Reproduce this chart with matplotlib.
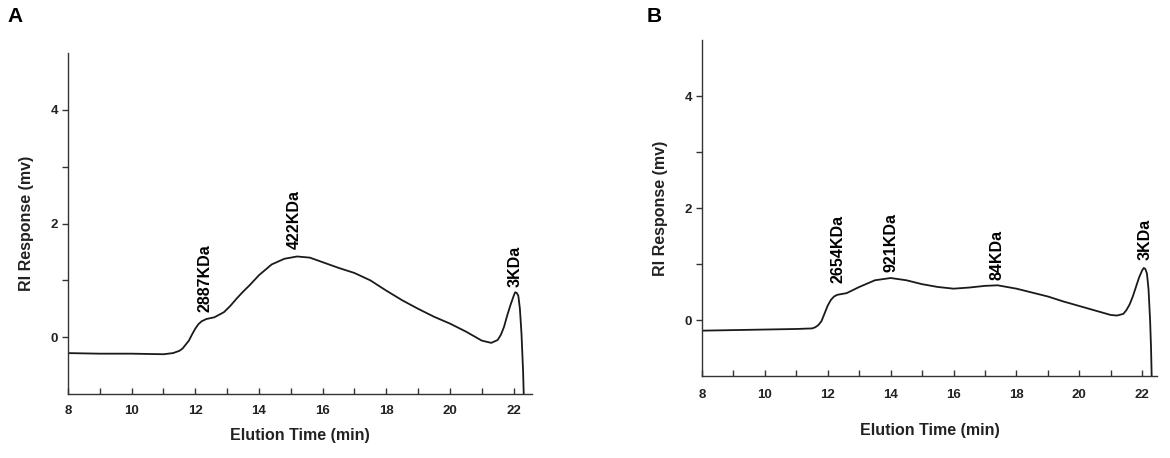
import numpy as np
import matplotlib.pyplot as plt

plt.rcParams['font.family'] = ['Liberation Sans', 'DejaVu Sans']

# ---------------- panel A data ----------------
time_a = [8.0, 9.0, 10.0, 11.0, 11.3, 11.5, 11.6, 11.7, 11.8, 11.9, 12.0, 12.1, 12.2,
          12.35, 12.6, 12.9, 13.1, 13.3, 13.5, 13.7, 14.0, 14.4, 14.8, 15.2, 15.6,
          16.0, 16.5, 17.0, 17.5, 18.0, 18.5, 19.0, 19.5, 20.0, 20.5, 21.0, 21.3,
          21.5, 21.6, 21.7, 21.8, 21.9, 22.0, 22.05, 22.1, 22.15, 22.2, 22.25, 22.3, 22.32]
resp_a = [-0.28, -0.29, -0.29, -0.30, -0.28, -0.24, -0.20, -0.13, -0.06, 0.05, 0.15, 0.23, 0.28,
          0.32, 0.35, 0.44, 0.55, 0.68, 0.80, 0.91, 1.09, 1.28, 1.38, 1.42, 1.40,
          1.32, 1.22, 1.13, 1.00, 0.82, 0.65, 0.50, 0.36, 0.24, 0.10, -0.06, -0.10,
          -0.05, 0.04, 0.18, 0.38, 0.56, 0.72, 0.79, 0.78, 0.73, 0.50, 0.06, -0.60, -1.0]

labels_a = ['2887KDa', '422KDa', '3KDa']
label_x_a = [12.3, 15.1, 22.06]
label_y_a = [0.44, 1.56, 0.88]

# ---------------- panel B data ----------------
time_b = [8.0, 9.0, 10.0, 11.0, 11.5, 11.6, 11.7, 11.8, 11.9, 12.0, 12.1, 12.2, 12.3,
          12.6, 13.0, 13.5, 14.0, 14.5, 15.0, 15.5, 16.0, 16.5, 17.0, 17.4, 18.0,
          18.5, 19.0, 19.5, 20.0, 20.5, 21.0, 21.2, 21.4, 21.5, 21.6, 21.7, 21.8,
          21.9, 22.0, 22.05, 22.1, 22.15, 22.2, 22.25, 22.28, 22.3]
resp_b = [-0.19, -0.18, -0.17, -0.16, -0.15, -0.13, -0.09, -0.02, 0.12, 0.26, 0.36, 0.42, 0.45,
          0.48, 0.59, 0.71, 0.75, 0.71, 0.64, 0.59, 0.56, 0.58, 0.61, 0.62, 0.56,
          0.49, 0.42, 0.33, 0.25, 0.17, 0.09, 0.08, 0.11, 0.18, 0.28, 0.42, 0.59,
          0.76, 0.89, 0.93, 0.91, 0.83, 0.55, 0.0, -0.5, -1.0]

labels_b = ['2654KDa', '921KDa', '84KDa', '3KDa']
label_x_b = [12.32, 14.02, 17.38, 22.08]
label_y_b = [0.67, 0.86, 0.71, 1.07]

major_x = [8, 10, 12, 14, 16, 18, 20, 22]
minor_x = [9, 11, 13, 15, 17, 19, 21]
major_y = [0, 2, 4]
minor_y = [1, 3]

fig = plt.figure(figsize=(11.7, 4.58), dpi=100)
ax_a = fig.add_axes([0.0581, 0.1397, 0.3966, 0.7445])
ax_b = fig.add_axes([0.600, 0.179, 0.3889, 0.7336])


def style_axes(ax, xmax, xpad, xlabelpad):
    ax.set_xlim(8, xmax)
    ax.set_ylim(-1, 5)
    ax.spines['top'].set_visible(False)
    ax.spines['right'].set_visible(False)
    for s in ['left', 'bottom']:
        ax.spines[s].set_linewidth(1.0)
        ax.spines[s].set_color('#333333')
    ax.set_xticks(major_x)
    ax.set_xticks(minor_x, minor=True)
    ax.set_yticks(major_y)
    ax.set_yticks(minor_y, minor=True)
    ax.tick_params(axis='x', which='both', direction='in', length=4, width=1,
                   labelsize=9.5, pad=xpad, color='#333333')
    ax.tick_params(axis='y', which='both', direction='out', length=4, width=1,
                   labelsize=9.5, pad=3, color='#333333')
    for t in ax.get_xticklabels() + ax.get_yticklabels():
        t.set_fontweight('bold')
        t.set_color('#222222')
    ax.set_xlabel('Elution Time (min)', fontsize=11.5, fontweight='bold',
                  labelpad=xlabelpad, color='#222222')
    ax.set_ylabel('RI Response (mv)', fontsize=11.5, fontweight='bold', labelpad=12, color='#222222')


style_axes(ax_a, 22.58, 8, 8)
ax_a.plot(time_a, resp_a, color='#1a1a1a', lw=1.3)
for txt, x, y in zip(labels_a, label_x_a, label_y_a):
    ax_a.text(x, y, txt, rotation=90, ha='center', va='bottom', fontsize=11.5, fontweight='bold')

style_axes(ax_b, 22.47, 9, 16)
ax_b.plot(time_b, resp_b, color='#1a1a1a', lw=1.3)
for txt, x, y in zip(labels_b, label_x_b, label_y_b):
    ax_b.text(x, y, txt, rotation=90, ha='center', va='bottom', fontsize=11.5, fontweight='bold')

fig.text(0.006, 0.963, 'A', fontsize=15, fontweight='bold', va='center', ha='left')
fig.text(0.553, 0.963, 'B', fontsize=15, fontweight='bold', va='center', ha='left')

fig.savefig('out.png', dpi=100)
